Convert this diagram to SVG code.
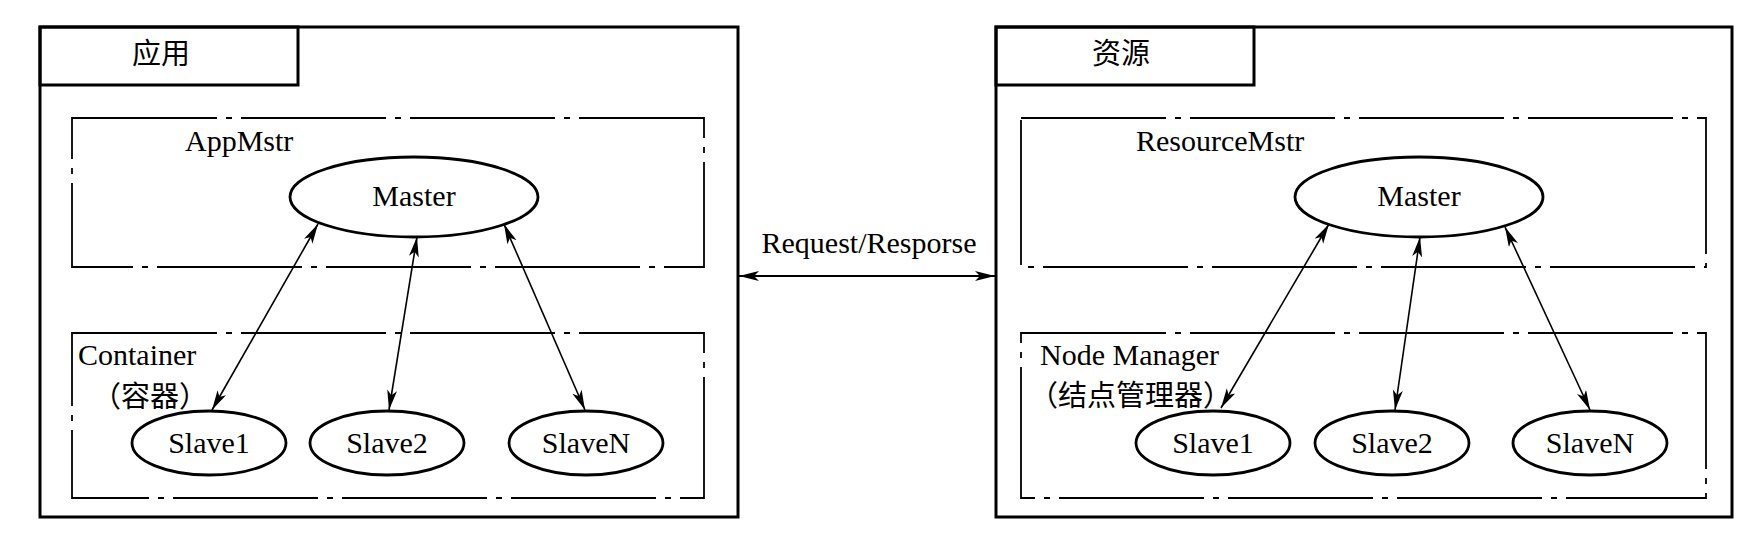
<svg xmlns="http://www.w3.org/2000/svg" width="1737" height="545" viewBox="0 0 1737 545">
<defs>
<style>
.outer{fill:none;stroke:#000;stroke-width:3}
.dd{fill:none;stroke:#000;stroke-width:1.8;stroke-dasharray:145 9 6 9}
.ell{fill:#fff;stroke:#000;stroke-width:2.8}
.t{font-family:'Liberation Serif','Times New Roman',serif;font-size:30px;fill:#000}
.c{text-anchor:middle}
.cn{font-family:'Noto Sans CJK SC',sans-serif;font-size:29px;fill:#000}
.conn line{stroke:#000;stroke-width:1.6;marker-start:url(#ah);marker-end:url(#ah)}
</style>
<marker id="ah" markerUnits="userSpaceOnUse" markerWidth="22" markerHeight="12" refX="20" refY="5" orient="auto-start-reverse">
<path d="M0,0 L20,5 L0,10 L5,5 z" fill="#000"/>
</marker>
</defs>
<rect width="1737" height="545" fill="#fff"/>

<g id="app">
<rect class="outer" x="40" y="27" width="698" height="490"/>
<rect class="outer" x="40" y="27" width="258" height="58"/>
<text class="cn c" x="161" y="64">应用</text>
</g>
<g id="appmstr">
<rect class="dd" x="72" y="118" width="632" height="149"/>
<text class="t" x="185" y="151">AppMstr</text>
</g>
<g id="master-l">
<ellipse class="ell" cx="414" cy="197" rx="124" ry="40"/>
<text class="t c" x="414" y="206">Master</text>
</g>
<g id="container">
<rect class="dd" x="72" y="333" width="632" height="165"/>
<text class="t" x="78" y="365">Container</text>
<text class="cn" x="92" y="407">（容器）</text>
</g>
<g id="slave1-l">
<ellipse class="ell" cx="209" cy="443" rx="77" ry="32"/>
<text class="t c" x="209" y="453">Slave1</text>
</g>
<g id="slave2-l">
<ellipse class="ell" cx="387" cy="443" rx="77" ry="32"/>
<text class="t c" x="387" y="453">Slave2</text>
</g>
<g id="slaven-l">
<ellipse class="ell" cx="586" cy="443" rx="77" ry="32"/>
<text class="t c" x="586" y="453">SlaveN</text>
</g>

<g id="res">
<rect class="outer" x="996" y="27" width="736" height="490"/>
<rect class="outer" x="996" y="27" width="258" height="58"/>
<text class="cn c" x="1121" y="64">资源</text>
</g>
<g id="resmstr">
<rect class="dd" x="1021" y="118" width="685" height="149"/>
<text class="t" x="1136" y="151">ResourceMstr</text>
</g>
<g id="master-r">
<ellipse class="ell" cx="1419" cy="197" rx="124" ry="40"/>
<text class="t c" x="1419" y="206">Master</text>
</g>
<g id="nodemgr">
<rect class="dd" x="1021" y="333" width="685" height="165"/>
<text class="t" x="1040" y="365">Node Manager</text>
<text class="cn" x="1029" y="406">（结点管理器）</text>
</g>
<g id="slave1-r">
<ellipse class="ell" cx="1213" cy="443" rx="77" ry="32"/>
<text class="t c" x="1213" y="453">Slave1</text>
</g>
<g id="slave2-r">
<ellipse class="ell" cx="1392" cy="443" rx="77" ry="32"/>
<text class="t c" x="1392" y="453">Slave2</text>
</g>
<g id="slaven-r">
<ellipse class="ell" cx="1590" cy="443" rx="77" ry="32"/>
<text class="t c" x="1590" y="453">SlaveN</text>
</g>

<g id="connectors" class="conn">
<line x1="318" y1="224" x2="212" y2="410"/>
<line x1="417" y1="237" x2="389" y2="410"/>
<line x1="504" y1="224" x2="585" y2="410"/>
<line x1="1329" y1="224" x2="1221" y2="408"/>
<line x1="1420" y1="237" x2="1395" y2="410"/>
<line x1="1505" y1="227" x2="1590" y2="410"/>
<line x1="739" y1="276" x2="995" y2="276" style="stroke-width:2.2"/>
</g>
<text class="t c" x="869" y="253">Request/Resporse</text>
</svg>
